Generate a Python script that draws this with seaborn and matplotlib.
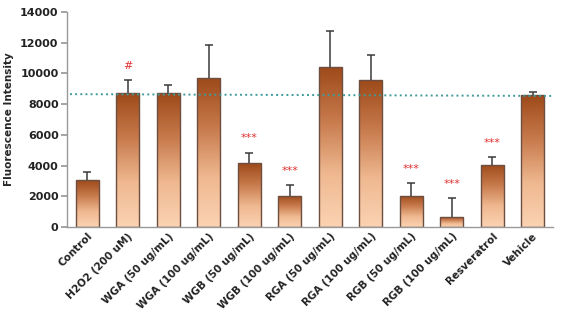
import numpy as np
import pandas as pd
import matplotlib
matplotlib.use("Agg")
import matplotlib.pyplot as plt
import seaborn as sns
from matplotlib.colors import LinearSegmentedColormap

categories = ["Control", "H2O2 (200 uM)", "WGA (50 ug/mL)", "WGA (100 ug/mL)",
              "WGB (50 ug/mL)", "WGB (100 ug/mL)", "RGA (50 ug/mL)", "RGA (100 ug/mL)",
              "RGB (50 ug/mL)", "RGB (100 ug/mL)", "Resveratrol", "Vehicle"]
means = [3050, 8700, 8700, 9680, 4150, 2020, 10400, 9550, 2020, 680, 4040, 8580]
errors = [550, 850, 550, 2200, 700, 690, 2350, 1630, 820, 1200, 500, 220]
marks = ["", "#", "", "", "***", "***", "", "", "***", "***", "***", ""]
ref_line = [8650, 8530]

df = pd.DataFrame({"group": categories, "value": means})

sns.set_theme(style="white")
plt.rcParams['font.family'] = ['DejaVu Sans']
fig = plt.figure(figsize=(5.62, 3.14), dpi=100)
ax = fig.add_axes([0.119, 0.277, 0.865, 0.685])

sns.barplot(data=df, x="group", y="value", width=0.57, color="#c07040",
            edgecolor="#6e4e40", linewidth=1.0, ax=ax, zorder=2)

# gradient fill inside each bar
cmap = LinearSegmentedColormap.from_list("brown", ["#fbd3b3", "#efb890", "#c77a4c", "#9e4a1a"])
grad = np.linspace(0, 1, 256).reshape(-1, 1)
for p in ax.patches:
    x0, y0 = p.get_x(), p.get_y()
    w, h = p.get_width(), p.get_height()
    p.set_facecolor("none")
    im = ax.imshow(grad, cmap=cmap, origin="lower", aspect="auto",
                   extent=[x0, x0 + w, y0, y0 + h], zorder=1.5)
    im.set_clip_path(p)

xs = np.arange(len(categories))
eb = ax.errorbar(xs, means, yerr=[np.zeros(len(errors)), errors], fmt="none",
                 ecolor="#3a3a3a", elinewidth=1.1, capsize=3, capthick=1.1, zorder=3)
# only upper caps
eb[1][0].remove()

for x, m, e, t in zip(xs, means, errors, marks):
    if t:
        ax.text(x, m + e + 950, t, ha="center", va="center", color="#e03030",
                fontsize=8)

ax.plot([-0.55, len(categories) - 0.45], ref_line, linestyle=":", color="#3f9a9a",
        linewidth=1.4, zorder=4)

ax.set_xlim(-0.5, len(categories) - 0.5)
ax.set_ylim(0, 14000)
ax.set_yticks(range(0, 14001, 2000))
ax.set_xlabel("")
ax.set_ylabel("Fluorescence Intensity", fontsize=7.5, fontweight="bold", labelpad=4)
ax.set_xticks(xs)
ax.set_xticklabels(categories, rotation=45, ha="right", rotation_mode="anchor",
                   fontsize=7.5, fontweight="bold", color="#222222")
for lab in ax.get_yticklabels():
    lab.set_fontweight("bold")
    lab.set_fontsize(8)
    lab.set_color("#222222")
ax.set_xticks(np.arange(-0.5, len(categories)), minor=True)
ax.tick_params(axis="x", which="major", length=0, pad=3)
ax.tick_params(axis="x", which="minor", length=4, color="#999999", direction="out")
ax.tick_params(axis="y", length=4, color="#999999", direction="out", left=True, pad=2)
sns.despine(ax=ax)
for s in ["left", "bottom"]:
    ax.spines[s].set_color("#999999")
    ax.spines[s].set_linewidth(1.0)

plt.savefig("out.png", dpi=100)
